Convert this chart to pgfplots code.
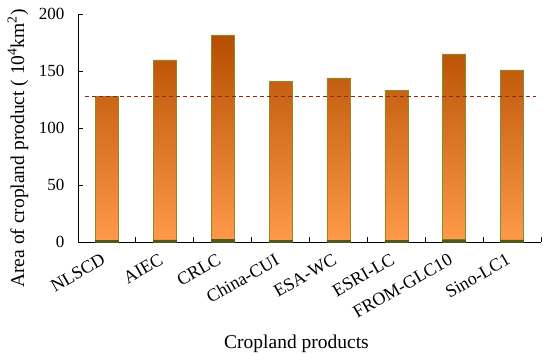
\documentclass[border=0pt]{standalone}
\usepackage{fontspec}
\setmainfont{Liberation Serif}
\usepackage{pgfplots}
\pgfplotsset{compat=1.18}
\definecolor{bartop}{HTML}{B54E00}
\definecolor{barbot}{HTML}{FF9A4A}
\definecolor{baredge}{HTML}{8C8A2A}
\definecolor{barbase}{HTML}{4E5A1A}
\definecolor{dashcol}{HTML}{8E2A10}
\begin{document}
\begin{tikzpicture}
\begin{axis}[
  scale only axis,
  width=463pt, height=228pt,
  xmin=-0.5, xmax=7.5,
  ymin=0, ymax=200,
  ytick={0,50,100,150,200},
  axis x line*=bottom, axis y line*=left,
  axis line style={line width=0.9pt},
  every tick/.style={black, line width=0.9pt},
  major tick length=5pt,
  minor tick length=5pt,
  xtick={0,...,7},
  xticklabels={NLSCD,AIEC,CRLC,China-CUI,ESA-WC,ESRI-LC,FROM-GLC10,Sino-LC1},
  x tick label style={font=\fontsize{18}{21}\selectfont, rotate=30, anchor=north east, inner sep=1pt, yshift=-5pt, xshift=-10pt},
  y tick label style={font=\fontsize{17}{20}\selectfont, xshift=-10pt},
  major x tick style={draw=none},
  minor xtick={0.5,1.5,...,7.5},
  minor x tick style={black, line width=0.9pt},
  ytick pos=left,
  /pgf/number format/assume math mode=true,
  ylabel={Area of cropland product ( 10\textsuperscript{4}km\textsuperscript{2})},
  xlabel={Cropland products},
  every axis y label/.style={at={(axis description cs:-0.1296,0.41)}, rotate=90, anchor=center, font=\fontsize{19.5}{23}\selectfont},
  every axis x label/.style={at={(axis description cs:0.472,-0.447)}, anchor=center, font=\fontsize{19.5}{23}\selectfont},
  ybar stacked,
  bar width=23pt,
  clip=false,
]
\addplot[fill=barbase, draw=barbase] coordinates {(0,1.6) (1,1.9) (2,2.2) (3,1.7) (4,1.7) (5,1.6) (6,2.0) (7,1.8)};
\addplot[draw=baredge, line width=0.6pt, shading=axis, top color=bartop, bottom color=barbot] coordinates {(0,126.2) (1,157.8) (2,179.4) (3,139.3) (4,142.3) (5,131.4) (6,163.0) (7,149.2)};
\end{axis}
\begin{axis}[
  scale only axis,
  width=463pt, height=228pt,
  xmin=-0.5, xmax=7.5,
  ymin=0, ymax=200,
  hide axis,
]
\addplot[dashcol, line width=1pt, dash pattern=on 4pt off 3pt] coordinates {(-0.38,128) (7.41,128)};
\end{axis}
\pgfresetboundingbox
\path ([shift={(-78pt,-117pt)}]current axis.south west) rectangle ([shift={(9pt,14pt)}]current axis.north east);
\end{tikzpicture}
\end{document}
